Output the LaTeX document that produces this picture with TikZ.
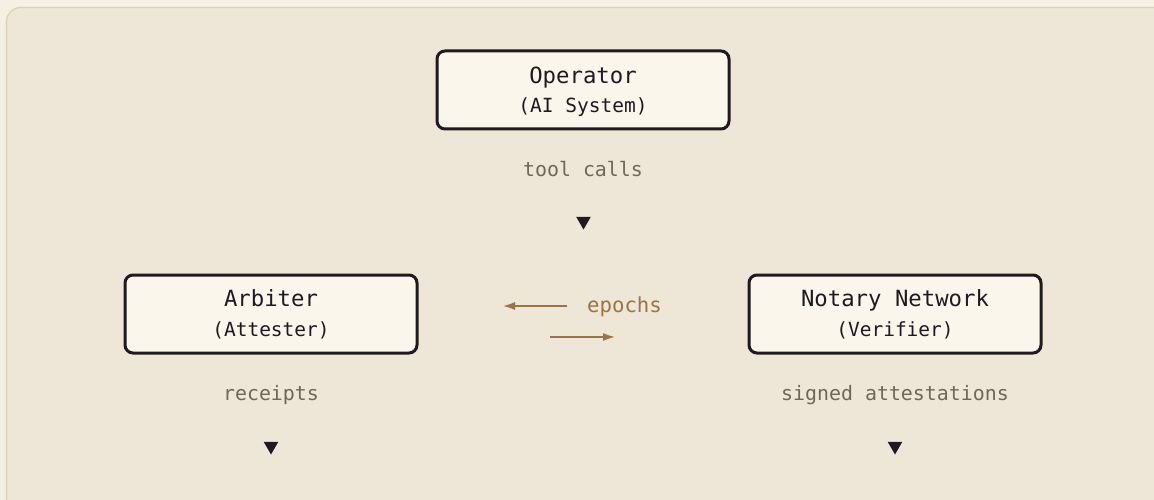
\documentclass[tikz,border=0pt]{standalone}
\usepackage{fontspec}
\setmonofont{DejaVu Sans Mono}
\usetikzlibrary{shapes.geometric,arrows.meta}
\definecolor{outerbg}{HTML}{F5F0E4}
\definecolor{panelbg}{HTML}{EEE6D6}
\definecolor{panelborder}{HTML}{DAD0BA}
\definecolor{boxfill}{HTML}{FAF6EC}
\definecolor{ink}{HTML}{1E1A20}
\definecolor{muted}{HTML}{716758}
\definecolor{bronze}{HTML}{9A7442}
\tikzset{
  x=1pt, y=-1pt,
  box/.style={draw=ink, line width=3pt, fill=boxfill, rounded corners=8pt,
    minimum width=292pt, minimum height=78pt, inner sep=0pt},
  title/.style={font=\ttfamily\fontsize{22.3}{24}\selectfont, text=ink, anchor=base, inner sep=0pt},
  sub/.style={font=\ttfamily\fontsize{19.5}{22}\selectfont, text=ink, anchor=base, inner sep=0pt},
  flowlabel/.style={font=\ttfamily\fontsize{19.9}{22}\selectfont, text=muted, anchor=base, inner sep=0pt},
  downmark/.style={regular polygon, regular polygon sides=3, shape border rotate=180,
    fill=ink, draw=none, minimum size=17pt, inner sep=0pt},
  epocharrow/.style={draw=bronze, line width=1.6pt, -{Latex[length=12pt,width=8pt]}},
}
\begin{document}
\begin{tikzpicture}
\useasboundingbox (0,0) rectangle (1154,500);
\fill[outerbg] (0,0) rectangle (1154,500);
\draw[panelborder, fill=panelbg, line width=1.2pt, rounded corners=14pt] (6.5,7.5) rectangle (1170,520);

% Operator
\node[box] (op) at (583,90) {};
\node[title] (opt) at (583,83.5) {Operator};
\node[sub] (ops) at (583,112.5) {(AI System)};
\node[flowlabel] (tc) at (583,176.5) {tool calls};
\node[downmark] (tri1) at (583.5,221) {};

% Arbiter
\node[box] (arb) at (271,314) {};
\node[title] (arbt) at (271,306.5) {Arbiter};
\node[sub] (arbs) at (271,336.5) {(Attester)};
\node[flowlabel] (rc) at (271,400.5) {receipts};
\node[downmark] (tri2) at (271,446) {};

% Notary
\node[box] (nn) at (895,314) {};
\node[title] (nnt) at (895,306.5) {Notary Network};
\node[sub] (nns) at (895,336.5) {(Verifier)};
\node[flowlabel] (sa) at (895,400.5) {signed attestations};
\node[downmark] (tri3) at (895,446) {};

% epochs
\node[font=\ttfamily\fontsize{20.7}{24}\selectfont, text=bronze, anchor=base, inner sep=0pt] (ep) at (624.5,312) {epochs};
\coordinate (a1s) at (567,306);
\coordinate (a1e) at (503,306);
\coordinate (a2s) at (550,337);
\coordinate (a2e) at (615,337);
\draw[epocharrow] (a1s) -- (a1e);
\draw[epocharrow] (a2s) -- (a2e);
\end{tikzpicture}
\end{document}
